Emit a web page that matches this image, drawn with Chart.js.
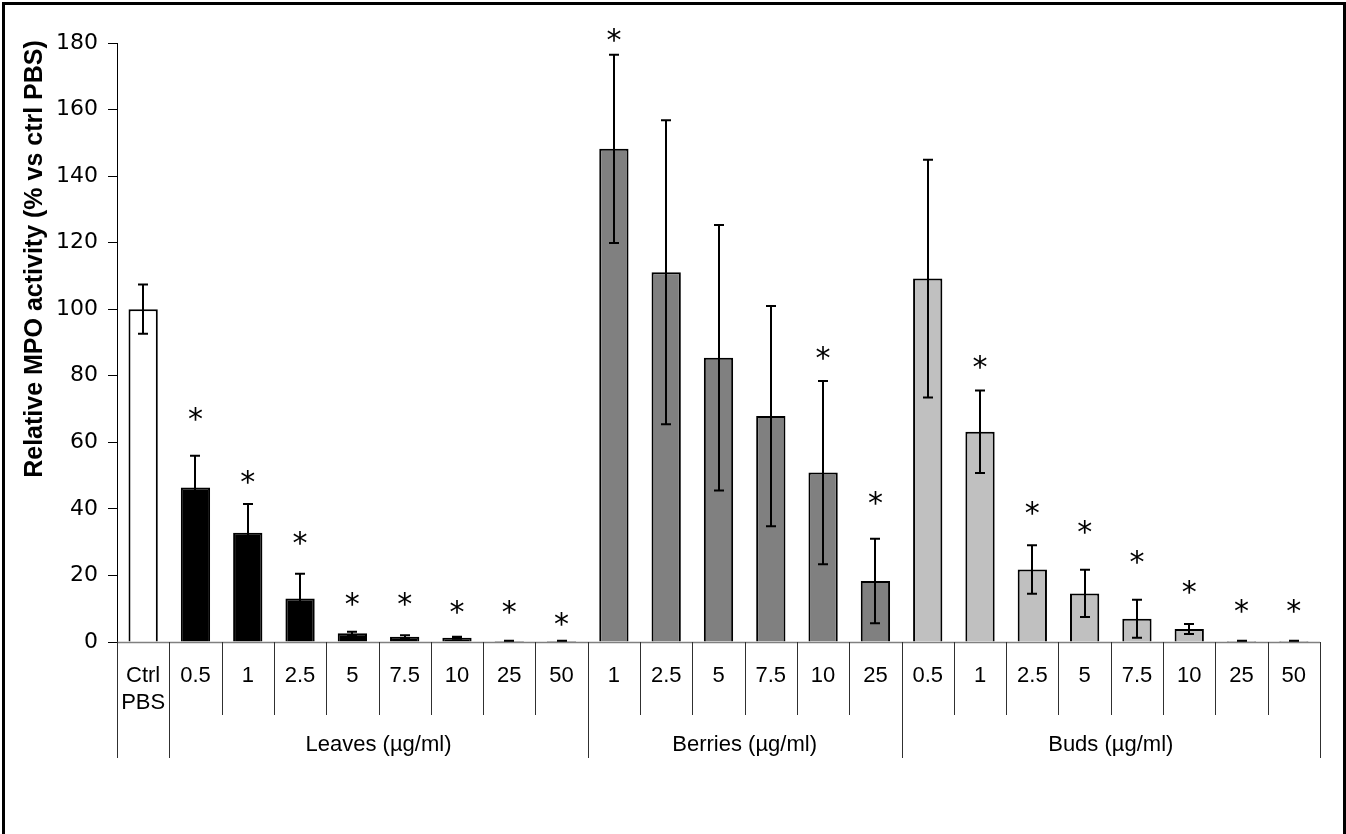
<!DOCTYPE html>
<html>
<head>
<meta charset="utf-8">
<script src="https://cdn.jsdelivr.net/npm/chart.js@4.4.1/dist/chart.umd.min.js"></script>
<style>
  html, body { margin: 0; padding: 0; background: #fff; }
  #wrap { position: relative; width: 1346px; height: 834px; }
</style>
</head>
<body>
<div id="wrap"><canvas id="chart"></canvas></div>
<script>
// Category labels (one per bar), grouped below the axis
const categories = [
  ['Ctrl', 'PBS'],
  '0.5', '1', '2.5', '5', '7.5', '10', '25', '50',
  '1', '2.5', '5', '7.5', '10', '25',
  '0.5', '1', '2.5', '5', '7.5', '10', '25', '50'
];

// Mean relative MPO activity (% vs ctrl PBS)
const meanValues = [
  100,
  46.4, 32.8, 13.1, 2.6, 1.6, 1.3, 0.3, 0.3,
  148.2, 111.1, 85.4, 67.9, 50.9, 18.3,
  109.2, 63.2, 21.8, 14.6, 7.0, 3.9, 0.3, 0.3
];

// Error (+/-) for each bar
const errorValues = [
  7.4,
  9.6, 8.7, 7.4, 0.5, 0.4, 0.3, 0.1, 0.1,
  28.3, 45.7, 39.9, 33.1, 27.5, 12.7,
  35.7, 12.4, 7.3, 7.1, 5.7, 1.5, 0.1, 0.1
];

// Level (in axis units) where the significance asterisk sits, null = none
const starLevels = [
  null,
  69.2, 50.2, 31.9, 13.6, 13.5, 11.1, 11.1, 7.6,
  183, null, null, null, 87.5, 44.0,
  null, 84.7, 40.9, 35.2, 26.1, 17.1, 11.4, 11.4
];

// Groups: name and number of bars
const groupNames = ['', 'Leaves (µg/ml)', 'Berries (µg/ml)', 'Buds (µg/ml)'];
const groupSizes = [1, 8, 6, 8];
const groupColors = ['#ffffff', '#000000', '#808080', '#c0c0c0'];

const yTicks = [0, 20, 40, 60, 80, 100, 120, 140, 160, 180];

// build per-bar fill colours from the groups
const barColors = [];
groupSizes.forEach((n, g) => {
  for (let i = 0; i < n; i++) barColors.push(groupColors[g]);
});

const LABEL_FONT = '"Liberation Sans", Arial, sans-serif';
const TICK_FONT = '"DejaVu Sans", Verdana, sans-serif';

const annotations = {
  id: 'annotations',
  afterDatasetsDraw(chart) {
    const ctx = chart.ctx;
    const x = chart.scales.x;
    const y = chart.scales.y;
    const area = chart.chartArea;
    const step = (area.right - area.left) / categories.length;

    ctx.save();

    // error bars
    ctx.strokeStyle = '#000';
    ctx.lineWidth = 2;
    meanValues.forEach((v, i) => {
      const cx = Math.round(x.getPixelForValue(i));
      const top = y.getPixelForValue(v + errorValues[i]);
      const bot = y.getPixelForValue(v - errorValues[i]);
      ctx.beginPath();
      ctx.moveTo(cx, top);
      ctx.lineTo(cx, bot);
      ctx.moveTo(cx - 5, top);
      ctx.lineTo(cx + 5, top);
      ctx.moveTo(cx - 5, bot);
      ctx.lineTo(cx + 5, bot);
      ctx.stroke();
    });

    // asterisks
    ctx.fillStyle = '#000';
    ctx.font = '30px ' + TICK_FONT;
    ctx.textAlign = 'center';
    ctx.textBaseline = 'alphabetic';
    starLevels.forEach((s, i) => {
      if (s === null) return;
      ctx.fillText('*', x.getPixelForValue(i), y.getPixelForValue(s) + 17);
    });

    // baseline
    ctx.strokeStyle = '#808080';
    ctx.lineWidth = 1.5;
    ctx.beginPath();
    ctx.moveTo(area.left, Math.round(area.bottom) + 0.5);
    ctx.lineTo(area.right, Math.round(area.bottom) + 0.5);
    ctx.stroke();

    // category separators
    const groupEdges = [0];
    groupSizes.forEach(n => groupEdges.push(groupEdges[groupEdges.length - 1] + n));
    ctx.strokeStyle = '#303030';
    ctx.lineWidth = 1;
    for (let i = 0; i <= categories.length; i++) {
      const sx = Math.round(area.left + i * step) + 0.5;
      const longLine = groupEdges.includes(i);
      ctx.beginPath();
      ctx.moveTo(sx, area.bottom);
      ctx.lineTo(sx, longLine ? 758 : 715);
      ctx.stroke();
    }

    // category labels
    ctx.font = '22px ' + LABEL_FONT;
    ctx.textBaseline = 'middle';
    categories.forEach((c, i) => {
      const cx = x.getPixelForValue(i);
      const lines = Array.isArray(c) ? c : [c];
      lines.forEach((t, k) => ctx.fillText(t, cx, 676 + k * 27));
    });

    // group labels
    groupNames.forEach((g, k) => {
      if (!g) return;
      const gx = area.left + (groupEdges[k] + groupEdges[k + 1]) / 2 * step;
      ctx.fillText(g, gx, 745);
    });

    // y title
    ctx.save();
    ctx.translate(35, 259);
    ctx.rotate(-Math.PI / 2);
    ctx.font = 'bold 25px ' + LABEL_FONT;
    ctx.fillText('Relative MPO activity (% vs ctrl PBS)', 0, 0);
    ctx.restore();

    // outer frame (open at the bottom)
    ctx.strokeStyle = '#000';
    ctx.lineWidth = 3;
    ctx.beginPath();
    ctx.moveTo(3.5, 840);
    ctx.lineTo(3.5, 3.5);
    ctx.lineTo(1344.5, 3.5);
    ctx.lineTo(1344.5, 840);
    ctx.stroke();

    ctx.restore();
  }
};

new Chart(document.getElementById('chart'), {
  type: 'bar',
  data: {
    labels: categories,
    datasets: [{
      data: meanValues,
      backgroundColor: barColors,
      borderColor: '#000',
      borderWidth: 2,
      barPercentage: 0.56,
      categoryPercentage: 1.0
    }]
  },
  options: {
    responsive: true,
    maintainAspectRatio: false,
    animation: false,
    layout: { padding: { top: 43, right: 26, bottom: 192, left: 0 } },
    plugins: {
      legend: { display: false },
      tooltip: { enabled: false }
    },
    scales: {
      x: {
        display: false
      },
      y: {
        min: 0,
        max: 180,
        afterFit(scale) { scale.width = 117; },
        afterBuildTicks(scale) { scale.ticks = yTicks.map(v => ({ value: v })); },
        ticks: {
          color: '#000',
          padding: 10,
          font: { family: TICK_FONT, size: 22 }
        },
        grid: {
          drawOnChartArea: false,
          drawTicks: true,
          tickLength: 9,
          color: '#000'
        },
        border: { display: true, color: '#000', width: 1 }
      }
    }
  },
  plugins: [annotations]
});
</script>
</body>
</html>
